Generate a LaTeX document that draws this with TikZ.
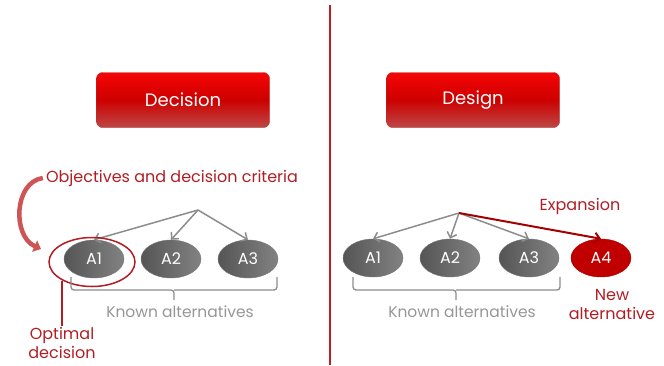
\documentclass[tikz,border=0pt]{standalone}
\usepackage{fontspec}
\setmainfont{Poppins}
\usepackage{tikz}
\usetikzlibrary{arrows.meta}
\usetikzlibrary{shapes.geometric}
\definecolor{ColRed}{RGB}{176,30,36}
\definecolor{ColLine}{RGB}{190,30,30}
\definecolor{ColDark}{RGB}{165,0,0}
\definecolor{ColBoxTop}{RGB}{245,5,5}
\definecolor{ColBoxMid}{RGB}{205,0,0}
\definecolor{ColBoxBot}{RGB}{190,70,70}
\definecolor{ColBoxEdge}{RGB}{170,50,50}
\definecolor{ColAltA}{RGB}{85,85,85}
\definecolor{ColAltB}{RGB}{130,130,130}
\definecolor{ColGray}{RGB}{140,140,140}
\definecolor{ColText}{RGB}{150,150,150}
\definecolor{ColNew}{RGB}{192,0,0}
\definecolor{ColCurve}{RGB}{205,85,85}
\tikzstyle{BoxHead}=[rectangle,rounded corners=6pt,draw=ColBoxEdge,top color=ColBoxTop,
bottom color=ColBoxBot,middle color=ColBoxMid,minimum width=173pt,minimum height=55pt,
text=white,font=\fontsize{18}{21}\selectfont]
\tikzstyle{NodeAlt}=[ellipse,draw=ColAltA!80,left color=ColAltA,right color=ColAltB,
minimum width=60pt,minimum height=38pt,inner sep=0pt,text=white,font=\fontsize{16}{18}\selectfont]
\tikzstyle{NodeNew}=[NodeAlt,draw=ColDark,left color=ColNew,right color=ColNew]
\tikzstyle{EdgeAlt}=[ColGray,line width=1.5pt,-{Straight Barb[length=5pt,width=10pt]}]
\tikzstyle{EdgeNew}=[ColDark,line width=2pt,-{Straight Barb[length=5pt,width=10pt]}]
\tikzstyle{EdgeCurve}=[ColCurve,line width=4.5pt,-{Triangle[length=7pt,width=12pt]}]
\tikzstyle{TextRed}=[text=ColRed,inner sep=1pt,font=\fontsize{16}{19}\selectfont]
\tikzstyle{TextGray}=[text=ColText,inner sep=1pt,font=\fontsize{15.5}{19}\selectfont]
\tikzstyle{BraceAlt}=[ColGray,line width=1.3pt,rounded corners=3pt]

\begin{document}
\begin{tikzpicture}[x=1pt,y=-1pt]
        \useasboundingbox (0,0) rectangle (664,365);
        \draw[ColLine,line width=2pt](330,5)--(330,365);
        % decision
        \node[BoxHead](LHead)at(183,100){Decision};
        \node[TextRed](LCrit)at(172,178){Objectives and decision criteria};
        \coordinate(LTop)at(198,210);
        \node[NodeAlt](LA1)at(94,259){A1};
        \node[NodeAlt](LA2)at(171,259){A2};
        \node[NodeAlt](LA3)at(248,259){A3};
        \draw[EdgeAlt](LTop)--(LA1.north);
        \draw[EdgeAlt](LTop)--(LA2.north);
        \draw[EdgeAlt](LTop)--(LA3.north);
        \node[ellipse,draw=ColRed,line width=1.5pt,minimum width=86pt,
            minimum height=49pt](LOpt)at(92,262){};
        \draw[EdgeCurve]([xshift=-2pt]LCrit.west)..controls(14,182)and(12,236)..(41,249);
        \draw[BraceAlt](71,277)|-(174,290)--(174,300);
        \draw[BraceAlt](277,277)|-(174,290);
        \node[TextGray](LKnown)at(180,312){Known alternatives};
        \node[TextRed,align=center](LOptTxt)at(62,343){Optimal\\decision};
        \coordinate(LOptFoot)at(62,281);
        \draw[ColRed,line width=1.5pt](LOptTxt.north)--(LOptFoot);
        % design
        \node[BoxHead](RHead)at(473,100){Design};
        \coordinate(RTop)at(459,213);
        \node[NodeAlt](RA1)at(373,258){A1};
        \node[NodeAlt](RA2)at(450,258){A2};
        \node[NodeAlt](RA3)at(529,258){A3};
        \node[NodeNew](RA4)at(601,258){A4};
        \draw[EdgeAlt](RTop)--(RA1.north);
        \draw[EdgeAlt](RTop)--(RA2.north);
        \draw[EdgeAlt](RTop)--(RA3.north);
        \draw[EdgeNew](RTop)--(RA4.north);
        \node[TextRed](RExp)at(580,206){Expansion};
        \draw[BraceAlt](353,277)|-(456,290)--(456,300);
        \draw[BraceAlt](560,277)|-(456,290);
        \node[TextGray](RKnown)at(462,312){Known alternatives};
        \node[TextRed,align=center](RNew)at(612,304){New\\alternative};
    \end{tikzpicture}
\end{document}
